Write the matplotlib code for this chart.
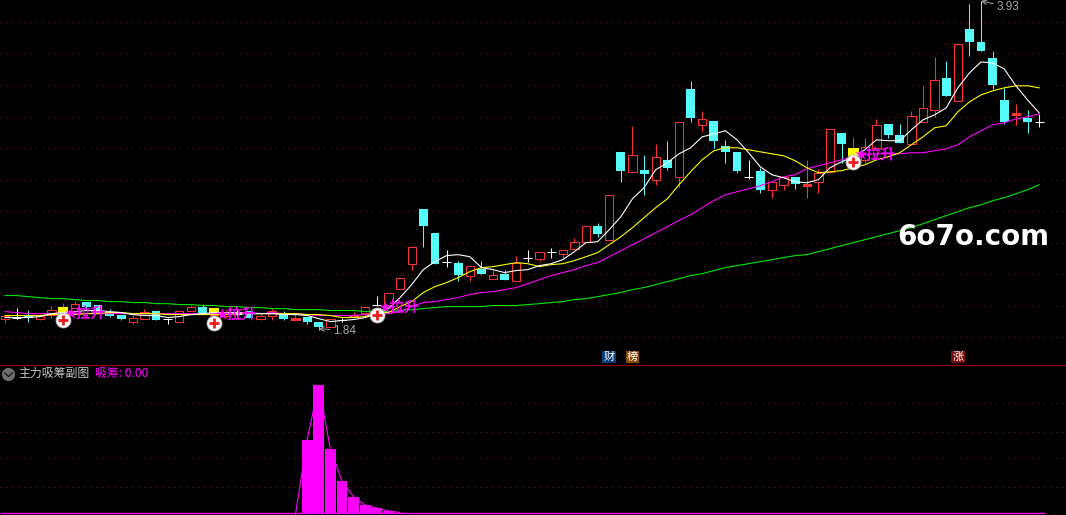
import matplotlib
matplotlib.use('Agg')
import matplotlib.pyplot as plt
import matplotlib.patheffects as pe
from matplotlib.path import Path
import numpy as np

plt.rcParams['font.family'] = ['Noto Sans CJK SC', 'DejaVu Sans']

opens = [1.910, 1.917, 1.930, 1.910, 1.936, 1.942, 1.981, 2.019, 2.000, 1.955,
         1.936, 1.891, 1.910, 1.962, 1.910, 1.891, 1.962, 1.987, 1.936, 1.930,
         1.942, 1.962, 1.910, 1.930, 1.942, 1.904, 1.923, 1.891, 1.859, 1.904,
         1.923, 1.949, 2.000, 2.000, 2.102, 2.262, 2.614, 2.461, 2.275, 2.269,
         2.186, 2.230, 2.166, 2.198, 2.154, 2.301, 2.294, 2.339, 2.326, 2.358,
         2.403, 2.506, 2.416, 2.979, 2.851, 2.864, 2.800, 2.928, 2.819, 3.382,
         3.152, 3.178, 3.018, 2.979, 2.819, 2.858, 2.736, 2.768, 2.819, 2.762,
         2.787, 2.851, 3.101, 2.954, 2.928, 3.005, 3.158, 3.088, 3.030, 3.171,
         3.248, 3.453, 3.306, 3.766, 3.683, 3.581, 3.312, 3.216, 3.197, 3.171]
closes = [1.930, 1.917, 1.917, 1.930, 1.968, 1.987, 2.006, 1.987, 1.949, 1.930,
          1.910, 1.917, 1.955, 1.898, 1.910, 1.962, 1.987, 1.942, 1.981, 1.955,
          1.942, 1.917, 1.930, 1.962, 1.910, 1.917, 1.891, 1.859, 1.910, 1.904,
          1.936, 1.987, 2.000, 2.077, 2.173, 2.371, 2.506, 2.262, 2.275, 2.192,
          2.250, 2.198, 2.192, 2.160, 2.269, 2.301, 2.339, 2.339, 2.352, 2.403,
          2.506, 2.454, 2.704, 2.858, 2.960, 2.838, 2.947, 2.877, 3.171, 3.197,
          3.190, 3.050, 2.979, 2.858, 2.819, 2.736, 2.787, 2.819, 2.774, 2.774,
          2.845, 3.126, 3.030, 3.005, 3.011, 3.152, 3.088, 3.037, 3.210, 3.261,
          3.440, 3.338, 3.670, 3.683, 3.626, 3.408, 3.171, 3.229, 3.171, 3.171]
highs = [1.930, 1.981, 1.968, 1.930, 1.994, 2.013, 2.026, 2.019, 2.000, 1.974,
         1.936, 1.936, 1.974, 1.962, 1.917, 1.962, 2.000, 2.006, 1.981, 1.968,
         1.968, 1.962, 1.949, 1.981, 1.962, 1.949, 1.923, 1.891, 1.910, 1.917,
         1.955, 1.987, 2.058, 2.077, 2.173, 2.378, 2.614, 2.461, 2.352, 2.282,
         2.250, 2.282, 2.224, 2.224, 2.314, 2.352, 2.339, 2.365, 2.352, 2.429,
         2.506, 2.525, 2.704, 2.979, 3.146, 2.960, 3.030, 3.050, 3.171, 3.434,
         3.242, 3.178, 3.056, 2.979, 2.928, 2.877, 2.787, 2.819, 2.819, 2.928,
         2.870, 3.126, 3.101, 3.075, 3.069, 3.190, 3.158, 3.158, 3.242, 3.402,
         3.587, 3.562, 3.670, 3.926, 3.946, 3.626, 3.389, 3.286, 3.248, 3.222]
lows = [1.885, 1.910, 1.891, 1.898, 1.917, 1.942, 1.981, 1.968, 1.949, 1.923,
        1.898, 1.878, 1.910, 1.898, 1.878, 1.891, 1.962, 1.942, 1.936, 1.917,
        1.917, 1.917, 1.898, 1.898, 1.898, 1.904, 1.878, 1.840, 1.859, 1.891,
        1.923, 1.930, 1.994, 2.000, 2.102, 2.224, 2.371, 2.262, 2.243, 2.154,
        2.154, 2.198, 2.166, 2.160, 2.154, 2.275, 2.282, 2.301, 2.301, 2.358,
        2.403, 2.435, 2.416, 2.787, 2.851, 2.704, 2.768, 2.864, 2.755, 3.171,
        3.107, 3.005, 2.909, 2.845, 2.806, 2.717, 2.685, 2.736, 2.742, 2.685,
        2.717, 2.851, 2.909, 2.954, 2.909, 3.005, 3.069, 3.037, 3.030, 3.171,
        3.203, 3.338, 3.306, 3.594, 3.626, 3.382, 3.158, 3.152, 3.101, 3.139]

ma_white = [1.917, 1.917, 1.917, 1.923, 1.942, 1.949, 1.955, 1.962, 1.962, 1.955,
            1.949, 1.936, 1.930, 1.930, 1.917, 1.923, 1.936, 1.942, 1.949, 1.949,
            1.949, 1.942, 1.942, 1.942, 1.936, 1.936, 1.930, 1.910, 1.891, 1.898,
            1.904, 1.917, 1.942, 1.974, 2.045, 2.128, 2.224, 2.275, 2.314, 2.320,
            2.307, 2.237, 2.224, 2.205, 2.218, 2.224, 2.250, 2.262, 2.288, 2.339,
            2.397, 2.403, 2.480, 2.563, 2.678, 2.749, 2.864, 2.909, 2.966, 3.005,
            3.075, 3.094, 3.114, 3.056, 2.973, 2.883, 2.832, 2.813, 2.787, 2.781,
            2.800, 2.877, 2.915, 2.947, 2.992, 3.056, 3.050, 3.050, 3.120, 3.184,
            3.216, 3.261, 3.389, 3.485, 3.555, 3.549, 3.510, 3.402, 3.312, 3.229]
ma_yellow = [1.930, 1.930, 1.930, 1.930, 1.936, 1.936, 1.936, 1.942, 1.942, 1.949,
             1.949, 1.942, 1.942, 1.942, 1.936, 1.936, 1.936, 1.936, 1.936, 1.936,
             1.942, 1.942, 1.942, 1.942, 1.942, 1.942, 1.936, 1.936, 1.930, 1.917,
             1.917, 1.923, 1.949, 1.949, 1.987, 2.019, 2.077, 2.115, 2.141, 2.173,
             2.211, 2.237, 2.243, 2.256, 2.269, 2.262, 2.243, 2.256, 2.262, 2.282,
             2.307, 2.333, 2.384, 2.435, 2.493, 2.557, 2.621, 2.678, 2.768, 2.851,
             2.928, 2.986, 3.005, 3.005, 2.992, 2.979, 2.966, 2.954, 2.922, 2.877,
             2.845, 2.851, 2.858, 2.877, 2.896, 2.928, 2.947, 2.973, 3.024, 3.075,
             3.133, 3.146, 3.235, 3.299, 3.344, 3.370, 3.389, 3.402, 3.402, 3.389]
ma_magenta = [1.955, 1.949, 1.942, 1.942, 1.942, 1.942, 1.942, 1.942, 1.942, 1.942,
              1.942, 1.942, 1.942, 1.942, 1.942, 1.942, 1.942, 1.942, 1.942, 1.942,
              1.949, 1.949, 1.942, 1.949, 1.942, 1.942, 1.936, 1.930, 1.930, 1.930,
              1.930, 1.936, 1.936, 1.942, 1.955, 1.987, 2.013, 2.019, 2.032, 2.045,
              2.064, 2.077, 2.083, 2.096, 2.109, 2.134, 2.160, 2.186, 2.205, 2.224,
              2.250, 2.269, 2.307, 2.346, 2.384, 2.422, 2.461, 2.499, 2.538, 2.576,
              2.621, 2.666, 2.704, 2.723, 2.742, 2.762, 2.787, 2.819, 2.832, 2.870,
              2.890, 2.909, 2.928, 2.947, 2.960, 2.966, 2.966, 2.966, 2.973, 2.973,
              2.986, 2.998, 3.024, 3.075, 3.114, 3.152, 3.165, 3.190, 3.203, 3.222]
ma_green = [2.058, 2.058, 2.051, 2.045, 2.038, 2.038, 2.032, 2.026, 2.026, 2.019,
            2.019, 2.013, 2.013, 2.006, 2.006, 2.000, 2.000, 1.994, 1.994, 1.987,
            1.987, 1.981, 1.981, 1.974, 1.974, 1.968, 1.968, 1.968, 1.962, 1.962,
            1.962, 1.955, 1.955, 1.955, 1.962, 1.968, 1.974, 1.981, 1.987, 1.987,
            1.987, 1.987, 1.994, 1.994, 1.994, 2.000, 2.006, 2.013, 2.019, 2.032,
            2.038, 2.051, 2.064, 2.077, 2.096, 2.109, 2.128, 2.147, 2.166, 2.186,
            2.198, 2.218, 2.237, 2.250, 2.262, 2.275, 2.288, 2.301, 2.314, 2.320,
            2.339, 2.358, 2.378, 2.397, 2.416, 2.435, 2.454, 2.474, 2.493, 2.518,
            2.544, 2.570, 2.595, 2.621, 2.640, 2.666, 2.685, 2.710, 2.736, 2.768]

grid_levels = [3.814, 3.612, 3.408, 3.203, 3.005, 2.800, 2.599, 2.397, 2.195, 1.994, 1.795]

# buy signal candles
signal_idx = [5, 18, 32, 73]
signal_circle = [1.904, 1.885, 1.936, 2.915]
signal_star = [1.949, 1.942, 1.987, 2.966]
signal_text = '拉升'

news_idx = [52, 54, 82]
news_text = ['财', '榜', '涨']
news_colors = ['#0b3d78', '#8a4b08', '#7d0a0a']

chip_idx = [25, 26, 27, 28, 29, 30, 31, 32, 33, 34]
chip_vals = [0, 74, 129, 65, 33, 17, 9, 6, 3, 1.5]
chip_grid = [111, 82, 56, 27]

red = '#ff3232'
cyan = '#54fcfc'
dotted = '#8a1414'
gray = '#a8a8a8'
pix = 0.72

fig = plt.figure(figsize=(10.66, 5.15), dpi=100, facecolor='black')
ax = fig.add_axes([0, 150 / 515, 1, 365 / 515])
ax2 = fig.add_axes([0, 0, 1, 150 / 515])

x = np.arange(len(opens))
opens = np.array(opens)
closes = np.array(closes)
highs = np.array(highs)
lows = np.array(lows)
up = closes > opens
down = closes < opens
flat = closes == opens
thin = up & (closes - opens < 0.02)

for a in (ax, ax2):
    a.set_facecolor('black')
    a.set_xlim(-0.43, 91.31)
    a.set_xticks([])
    a.set_yticks([])
    for s in a.spines.values():
        s.set_visible(False)
ax.set_ylim(1.6128, 3.952)
ax2.set_ylim(-1, 149)

for lev in grid_levels:
    ax.axhline(lev, color=dotted, lw=pix, ls=(0, (1, 5)), zorder=1)

# candles
ax.vlines(x[up], lows[up], highs[up], color=red, lw=pix, zorder=2)
ax.vlines(x[down], lows[down], highs[down], color=cyan, lw=pix, zorder=2)
ax.vlines(x[flat], lows[flat], highs[flat], color='white', lw=pix, zorder=2)
ax.bar(x[up], closes[up] - opens[up], bottom=opens[up], width=0.72,
       facecolor='black', edgecolor=red, lw=pix, zorder=3)
ax.bar(x[thin], closes[thin] - opens[thin], bottom=opens[thin], width=0.72,
       facecolor=red, edgecolor=red, lw=pix, zorder=3)
ax.bar(x[down], opens[down] - closes[down], bottom=closes[down], width=0.76,
       facecolor=cyan, edgecolor=cyan, lw=0, zorder=3)
ax.hlines(closes[flat], x[flat] - 0.38, x[flat] + 0.38, color='white', lw=pix, zorder=3)

# signal candles are painted yellow
sig_yellow = [i for i in signal_idx if i != 32]
ax.bar(sig_yellow, closes[sig_yellow] - opens[sig_yellow], bottom=opens[sig_yellow],
       width=0.92, color='#ffff00', lw=0, zorder=4)

ax.plot(x, ma_green, color='#00e800', lw=0.8, zorder=5)
ax.plot(x, ma_magenta, color='#ff00ff', lw=0.8, zorder=5)
ax.plot(x, ma_yellow, color='#ffff00', lw=0.8, zorder=6)
ax.plot(x, ma_white, color='white', lw=0.8, zorder=7)

for i, c, st in zip(signal_idx, signal_circle, signal_star):
    ax.scatter([i + 0.7], [st], marker='*', s=85, color='#ff00ff', lw=0, zorder=8)
    ax.text(i + 1.1, st - 0.008, signal_text, color='#ff00ff', fontsize=10.5, va='center', ha='left',
            zorder=8, path_effects=[pe.withStroke(linewidth=0.2, foreground='#ff00ff')])
    ax.scatter([i], [c], s=115, color='white', edgecolor='#bbbbbb', lw=0.6, zorder=9)
    ax.scatter([i], [c], s=50, marker='+', color='#ee1c1c', lw=2, zorder=10)

ax.annotate('3.93', xy=(84, 3.946), xytext=(15, -6), textcoords='offset pixels',
            color=gray, fontsize=8.5, family='Liberation Sans', va='center', zorder=11,
            arrowprops=dict(arrowstyle='->', color=gray, lw=0.7, shrinkA=0, shrinkB=0))
ax.annotate('1.84', xy=(27, 1.846), xytext=(14, -2), textcoords='offset pixels',
            color=gray, fontsize=8.5, family='Liberation Sans', va='center', zorder=11,
            arrowprops=dict(arrowstyle='->', color=gray, lw=0.7, shrinkA=0, shrinkB=0))

for i, t, c in zip(news_idx, news_text, news_colors):
    ax.text(i, 1.664, t, color='white', fontsize=8, ha='center', va='center',
            bbox=dict(boxstyle='square,pad=0.12', fc=c, ec='none'), zorder=11)

ax.text(0.8415, 0.352, '6o7o.com', transform=ax.transAxes, color='white', fontsize=20,
        fontweight='bold', family='DejaVu Sans', ha='left', va='center', zorder=12)

# lower pane
ax2.spines['top'].set_visible(True)
ax2.spines['top'].set_color('#a80000')
ax2.spines['top'].set_linewidth(pix)
for lev in chip_grid:
    ax2.axhline(lev, color=dotted, lw=pix, ls=(0, (1, 5)), zorder=1)
ax2.hlines(1, -0.43, 89.5, color='#ff00ff', lw=1.0, zorder=2)
ax2.bar(chip_idx, chip_vals, width=0.93, color='#ff00ff', lw=0, zorder=3)
ax2.plot(chip_idx, chip_vals, color='#ff00ff', lw=0.8, zorder=4)

ax2.plot([8 / 1066], [0.941], marker='o', ms=9.5, color='#6e6e6e', mew=0,
         transform=ax2.transAxes, zorder=5)
chevron = Path([(-1, 0.5), (0, -0.5), (1, 0.5)])
ax2.plot([8 / 1066], [0.941], marker=chevron, ms=6, mfc='none', mec='#111111', mew=0.9,
         transform=ax2.transAxes, zorder=6)
ax2.text(18 / 1066, 0.941, '主力吸筹副图', transform=ax2.transAxes, color='#c4c4c4', fontsize=8.6,
         ha='left', va='center')
ax2.text(95 / 1066, 0.941, '吸筹: 0.00', transform=ax2.transAxes, color='#ff00ff', fontsize=8.6,
         ha='left', va='center')

plt.savefig('out.png', dpi=100, facecolor='black')
